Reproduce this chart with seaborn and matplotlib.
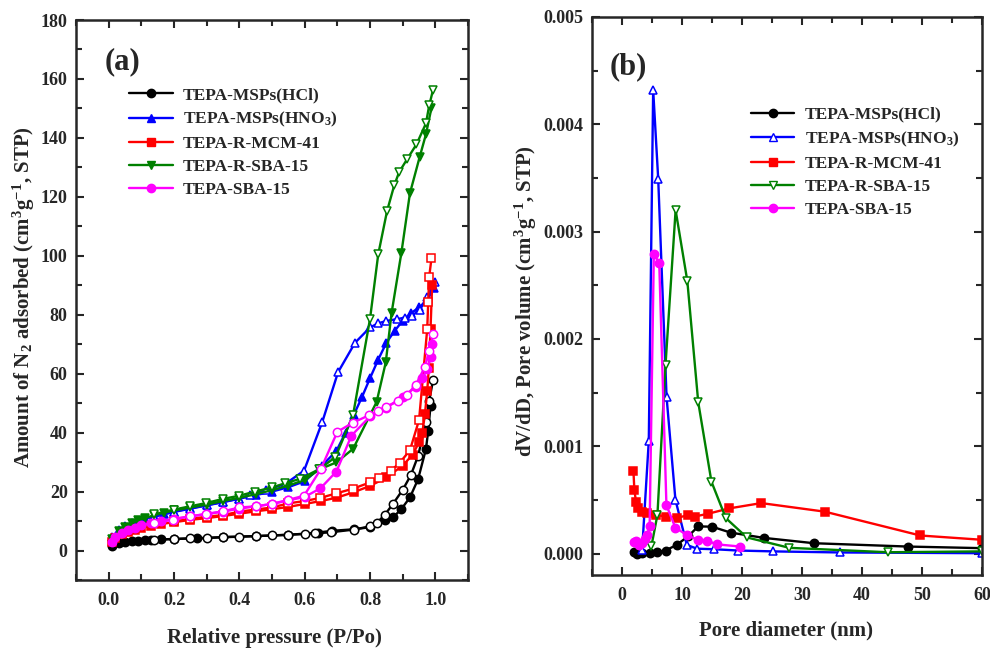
import numpy as np
import pandas as pd
import matplotlib
matplotlib.use("Agg")
import matplotlib.pyplot as plt
from matplotlib.ticker import MultipleLocator, FormatStrFormatter
import seaborn as sns

# ---------------- (a) N2 isotherms: adsorption (filled) / desorption (open) ----------------
hcl_p_ads = [0.01, 0.03, 0.05, 0.07, 0.09, 0.11, 0.13, 0.16, 0.2, 0.27, 0.35, 0.45, 0.55, 0.64, 0.685,
             0.75, 0.8, 0.845, 0.871, 0.896, 0.922, 0.947, 0.971, 0.978, 0.985]
hcl_v_ads = [1.5, 2.4, 2.8, 3.1, 3.3, 3.5, 3.6, 3.8, 3.9, 4.2, 4.5, 4.9, 5.3, 6.1, 6.7,
             7.2, 7.9, 10.4, 11.3, 14.1, 18.0, 24.2, 34.4, 40.6, 49.1]
hcl_p_des = [0.14, 0.2, 0.25, 0.3, 0.35, 0.4, 0.45, 0.5, 0.55, 0.6, 0.63, 0.68, 0.75, 0.8, 0.82,
             0.845, 0.87, 0.9, 0.925, 0.947, 0.971, 0.981, 0.993]
hcl_v_des = [3.7, 3.9, 4.1, 4.2, 4.6, 4.7, 4.9, 5.1, 5.4, 5.6, 5.8, 6.2, 7.1, 8.2, 9.3,
             12.1, 15.8, 20.6, 25.6, 32.1, 43.5, 50.8, 57.9]

hno3_p_ads = [0.01, 0.03, 0.05, 0.07, 0.09, 0.11, 0.14, 0.17, 0.2, 0.25, 0.3, 0.35, 0.4, 0.45, 0.5,
              0.55, 0.6, 0.652, 0.697, 0.725, 0.75, 0.775, 0.8, 0.825, 0.85, 0.875, 0.9, 0.925,
              0.95, 0.975, 0.995]
hno3_v_ads = [4.5, 6.8, 8.2, 9.2, 10.0, 10.7, 11.6, 12.4, 13.2, 14.3, 15.4, 16.5, 17.6, 18.8, 20.0,
              21.5, 23.5, 28.7, 33.8, 40.0, 46.0, 52.0, 58.5, 64.8, 70.5, 74.5, 78.0, 80.5,
              82.5, 85.0, 89.0]
hno3_p_des = [0.14, 0.2, 0.25, 0.3, 0.35, 0.4, 0.432, 0.483, 0.539, 0.598, 0.654, 0.702, 0.754,
              0.8, 0.825, 0.85, 0.881, 0.906, 0.927, 0.952, 0.975, 0.998]
hno3_v_des = [11.5, 13.1, 14.2, 15.3, 16.4, 17.6, 18.8, 20.6, 22.5, 27.1, 43.7, 60.5, 70.5,
              75.7, 77.1, 77.9, 78.5, 79.0, 79.6, 81.6, 86.0, 91.2]

mcm_p_ads = [0.01, 0.02, 0.04, 0.06, 0.08, 0.1, 0.13, 0.16, 0.2, 0.25, 0.3, 0.35, 0.4, 0.45, 0.5,
             0.55, 0.6, 0.65, 0.7, 0.75, 0.8, 0.85, 0.9, 0.93, 0.95, 0.96, 0.968, 0.975, 0.98,
             0.985, 0.99]
mcm_v_ads = [2.8, 4.2, 5.5, 6.4, 7.1, 7.7, 8.4, 9.0, 9.6, 10.4, 11.0, 11.7, 12.5, 13.3, 14.0,
             14.8, 15.8, 16.8, 18.0, 19.8, 21.9, 24.8, 28.8, 32.5, 36.7, 40.0, 46.3, 54.2, 62.0,
             75.0, 90.0]
mcm_p_des = [0.2, 0.25, 0.3, 0.35, 0.4, 0.45, 0.5, 0.55, 0.6, 0.646, 0.697, 0.748, 0.8, 0.828,
             0.863, 0.891, 0.922, 0.95, 0.975, 0.978, 0.981, 0.988]
mcm_v_des = [9.9, 10.7, 11.5, 12.0, 13.2, 13.9, 14.6, 16.0, 16.8, 17.8, 19.4, 21.0, 23.1, 24.5,
             27.0, 29.8, 34.0, 44.3, 75.2, 84.3, 92.9, 99.1]

rsba_p_ads = [0.01, 0.03, 0.05, 0.07, 0.09, 0.11, 0.14, 0.17, 0.2, 0.25, 0.3, 0.35, 0.4, 0.45, 0.5,
              0.55, 0.6, 0.646, 0.697, 0.748, 0.82, 0.848, 0.866, 0.896, 0.922, 0.952, 0.971, 0.988]
rsba_v_ads = [4.0, 6.5, 8.0, 9.2, 10.2, 11.0, 12.0, 12.9, 13.6, 14.6, 15.6, 16.8, 17.9, 19.1, 20.5,
              22.0, 24.0, 27.6, 29.9, 34.5, 50.4, 63.8, 80.7, 101.1, 121.2, 133.6, 141.2, 150.2]
rsba_p_des = [0.14, 0.2, 0.249, 0.298, 0.349, 0.4, 0.448, 0.499, 0.54, 0.585, 0.643, 0.694, 0.748,
              0.8, 0.825, 0.852, 0.874, 0.889, 0.914, 0.942, 0.971, 0.981, 0.993]
rsba_v_des = [12.3, 13.9, 15.0, 16.1, 17.5, 18.6, 20.0, 21.4, 22.8, 24.3, 27.5, 31.7, 46.0,
              78.7, 100.5, 115.2, 123.9, 128.4, 132.9, 137.8, 144.9, 151.0, 156.4]

sba_p_ads = [0.01, 0.02, 0.04, 0.06, 0.08, 0.1, 0.13, 0.16, 0.2, 0.25, 0.3, 0.35, 0.4, 0.45, 0.5,
             0.55, 0.6, 0.648, 0.697, 0.743, 0.8, 0.85, 0.9, 0.94, 0.96, 0.975, 0.985, 0.99]
sba_v_ads = [3.0, 4.5, 6.0, 7.0, 7.8, 8.5, 9.3, 10.0, 10.8, 11.6, 12.4, 13.2, 14.2, 15.0, 15.8,
             17.0, 18.2, 21.1, 26.8, 39.0, 45.5, 48.5, 52.0, 55.5, 58.5, 61.5, 65.5, 70.0]
sba_p_des = [0.14, 0.198, 0.249, 0.298, 0.35, 0.4, 0.451, 0.499, 0.55, 0.598, 0.649, 0.7, 0.748,
             0.797, 0.825, 0.85, 0.886, 0.912, 0.94, 0.968, 0.981, 0.993]
sba_v_des = [9.3, 10.5, 11.6, 12.4, 13.3, 14.6, 15.0, 15.8, 17.2, 18.6, 27.6, 40.3, 43.4,
             45.9, 47.2, 48.8, 50.8, 52.8, 56.1, 62.4, 67.7, 73.4]

# ---------------- (b) pore size distributions (x 1e-3 cm3/g/nm) ----------------
hcl_d = [1.95, 2.5, 3.3, 4.7, 5.9, 7.25, 9.1, 11.0, 12.7, 15.0, 18.1, 23.6, 32.0, 47.6, 60.0]
hcl_dv = [0.015, 0.0, 0.005, 0.003, 0.012, 0.028, 0.08, 0.16, 0.253, 0.25, 0.195, 0.146, 0.096,
          0.065, 0.05]
hno3_d = [3.35, 4.46, 5.19, 6.03, 7.42, 8.9, 10.8, 12.5, 15.4, 19.3, 25.1, 36.3, 60.0]
hno3_dv = [0.03, 1.05, 4.32, 3.49, 1.46, 0.50, 0.08, 0.045, 0.04, 0.028, 0.02, 0.01, 0.003]
mcm_d = [1.9, 2.06, 2.34, 2.68, 3.35, 4.2, 5.6, 7.3, 9.1, 11.0, 12.1, 14.3, 17.8, 23.2, 33.8,
         49.7, 60.0]
mcm_dv = [0.77, 0.59, 0.48, 0.42, 0.39, 0.375, 0.36, 0.345, 0.333, 0.356, 0.345, 0.37, 0.42,
          0.47, 0.39, 0.168, 0.128]
rsba_d = [4.9, 5.9, 7.25, 8.93, 10.88, 12.7, 14.9, 17.3, 20.8, 27.9, 44.3, 60.0]
rsba_dv = [0.07, 0.36, 1.76, 3.20, 2.54, 1.41, 0.67, 0.33, 0.15, 0.053, 0.012, 0.02]
sba_d = [1.95, 2.4, 2.8, 3.3, 3.8, 4.2, 4.6, 5.3, 6.2, 7.4, 8.9, 10.9, 12.6, 14.1, 15.9, 19.7]
sba_dv = [0.11, 0.12, 0.08, 0.10, 0.14, 0.17, 0.26, 2.79, 2.71, 0.45, 0.24, 0.17, 0.128, 0.12,
          0.085, 0.065]

labels = ["TEPA-MSPs(HCl)", "TEPA-MSPs(HNO$_3$)", "TEPA-R-MCM-41", "TEPA-R-SBA-15", "TEPA-SBA-15"]
colors = ["#000000", "#0000FF", "#FF0000", "#008000", "#FF00FF"]
markers = ["o", "^", "s", "v", "o"]

sns.set_style("ticks")
plt.rcParams["font.family"] = ["Liberation Serif", "DejaVu Serif"]
plt.rcParams["font.weight"] = "bold"
plt.rcParams["mathtext.fontset"] = "custom"
plt.rcParams["mathtext.rm"] = "Liberation Serif:bold"
plt.rcParams["mathtext.it"] = "Liberation Serif:bold"
plt.rcParams["mathtext.bf"] = "Liberation Serif:bold"
plt.rcParams["mathtext.default"] = "rm"
plt.rcParams["axes.linewidth"] = 1.8

fig = plt.figure(figsize=(9.9, 6.5), dpi=100)
ax1 = fig.add_axes([0.0768, 0.1077, 0.396, 0.8615])
ax2 = fig.add_axes([0.598, 0.1154, 0.394, 0.8585])


def draw(ax, x, y, color, marker, filled, ms=6.0):
    df = pd.DataFrame({"x": x, "y": y})
    sns.lineplot(data=df, x="x", y="y", ax=ax, color=color, marker=marker,
                 markersize=ms, markeredgecolor=color, markeredgewidth=1.1,
                 markerfacecolor=color if filled else "white",
                 linewidth=1.7, sort=False, estimator=None, legend=False)


iso = [
    (hcl_p_ads, hcl_v_ads, hcl_p_des, hcl_v_des),
    (hno3_p_ads, hno3_v_ads, hno3_p_des, hno3_v_des),
    (mcm_p_ads, mcm_v_ads, mcm_p_des, mcm_v_des),
    (rsba_p_ads, rsba_v_ads, rsba_p_des, rsba_v_des),
    (sba_p_ads, sba_v_ads, sba_p_des, sba_v_des),
]
handles_a = []
for (pa, va, pd_, vd), c, m, lab in zip(iso, colors, markers, labels):
    draw(ax1, pa, va, c, m, True)
    draw(ax1, pd_, vd, c, m, False)
    handles_a.append(plt.Line2D([], [], color=c, marker=m, markersize=6.0, markeredgecolor=c,
                                markerfacecolor=c, linewidth=1.7, label=lab))

psd = [(hcl_d, hcl_dv, True), (hno3_d, hno3_dv, False), (mcm_d, mcm_dv, True),
       (rsba_d, rsba_dv, False), (sba_d, sba_dv, True)]
handles_b = []
for (d, dv, filled), c, m, lab in zip(psd, colors, markers, labels):
    draw(ax2, d, np.array(dv) * 1e-3, c, m, filled)
    handles_b.append(plt.Line2D([], [], color=c, marker=m, markersize=6.0, markeredgecolor=c,
                                markerfacecolor=c if filled else "white", linewidth=1.7,
                                label=lab))

# axes styling
ax1.set_xlim(-0.1, 1.1)
ax1.set_ylim(-10, 180)
ax1.xaxis.set_major_locator(MultipleLocator(0.2))
ax1.xaxis.set_minor_locator(MultipleLocator(0.1))
ax1.xaxis.set_major_formatter(FormatStrFormatter("%.1f"))
ax1.yaxis.set_major_locator(MultipleLocator(20))
ax1.yaxis.set_minor_locator(MultipleLocator(10))

ax2.set_xlim(-5, 60)
ax2.set_ylim(-0.0002, 0.005)
ax2.xaxis.set_major_locator(MultipleLocator(10))
ax2.xaxis.set_minor_locator(MultipleLocator(5))
ax2.yaxis.set_major_locator(MultipleLocator(0.001))
ax2.yaxis.set_minor_locator(MultipleLocator(0.0005))
ax2.yaxis.set_major_formatter(FormatStrFormatter("%.3f"))

for ax in (ax1, ax2):
    for s in ax.spines.values():
        s.set_visible(True)
        s.set_linewidth(1.8)
    ax.tick_params(which="both", direction="in", top=True, right=True, width=1.5,
                   labelsize=13)
    ax.tick_params(which="major", length=5.5)
    ax.tick_params(which="minor", length=4)
    ax.tick_params(axis="x", pad=9)
    ax.tick_params(axis="y", pad=6)
    for t in ax.get_xticklabels() + ax.get_yticklabels():
        t.set_fontweight("bold")

ax1.set_xlabel("Relative pressure (P/Po)", fontsize=15, fontweight="bold")
ax1.set_ylabel("Amount of N$_2$ adsorbed (cm$^3$g$^{-1}$, STP)", fontsize=15, fontweight="bold")
ax2.set_xlabel("Pore diameter (nm)", fontsize=15, fontweight="bold")
ax2.set_ylabel("dV/dD, Pore volume (cm$^3$g$^{-1}$, STP)", fontsize=15, fontweight="bold")
ax1.xaxis.set_label_coords(0.505, -0.086)
ax2.xaxis.set_label_coords(0.497, -0.082)
ax1.yaxis.set_label_coords(-0.1, 0.505)
ax2.yaxis.set_label_coords(-0.136, 0.49)

ax1.text(0.074, 0.925, "(a)", transform=ax1.transAxes, fontsize=22, fontweight="bold",
         va="center", ha="left")
ax2.text(0.046, 0.91, "(b)", transform=ax2.transAxes, fontsize=22, fontweight="bold",
         va="center", ha="left")

leg_kw = dict(frameon=False, handlelength=2.5, handletextpad=0.6, labelspacing=0.4,
              borderaxespad=0.0, prop={"weight": "bold", "size": 12.5})
ax1.legend(handles=handles_a, loc="upper left", bbox_to_anchor=(0.118, 0.893), **leg_kw)
ax2.legend(handles=handles_b, loc="upper left", bbox_to_anchor=(0.39, 0.852), **leg_kw)

fig.savefig("out.png", dpi=100)
